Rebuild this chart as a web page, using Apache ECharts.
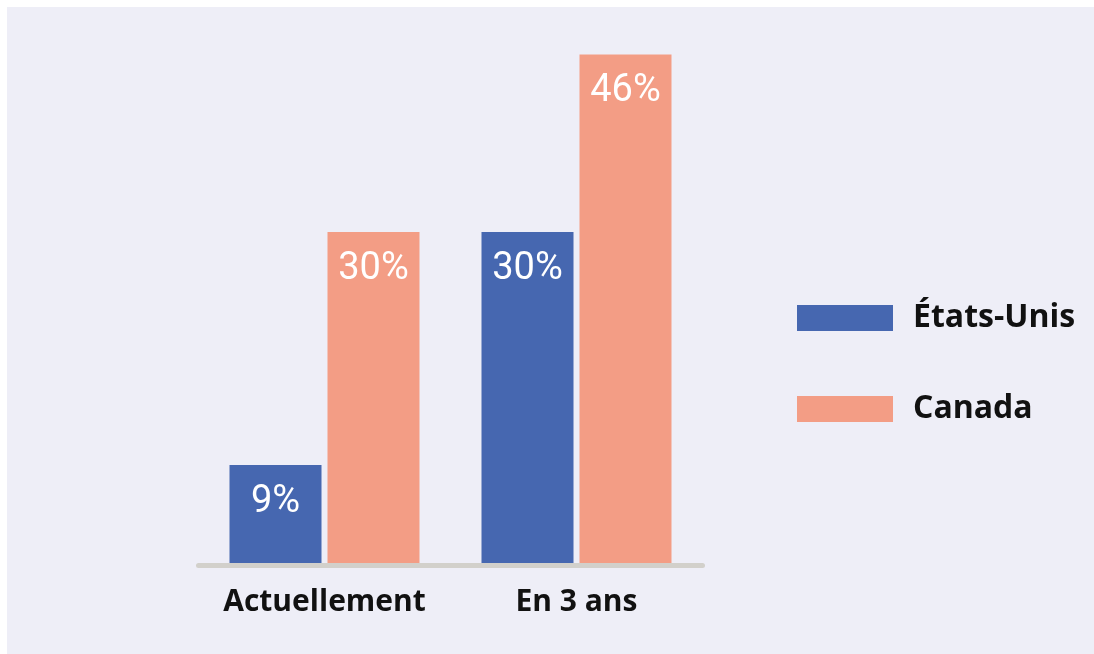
<!DOCTYPE html>
<html>
<head>
<meta charset="utf-8">
<script src="https://cdn.jsdelivr.net/npm/echarts@6/dist/echarts.min.js"></script>
<style>
  html, body { margin: 0; padding: 0; background: #ffffff; }
  #chart { position: absolute; left: 7px; top: 7px; width: 1087px; height: 647px; background: #EEEEF7; }
</style>
</head>
<body>
<div id="chart"></div>
<script>
const categories = ['Actuellement', 'En 3 ans'];
const seriesNames = ['États-Unis', 'Canada'];
const usValues = [9, 30];
const canadaValues = [30, 46];
const colors = ['#4667B0', '#F39D85'];

const chart = echarts.init(document.getElementById('chart'), null, { renderer: 'canvas' });

const labelStyle = {
  show: true,
  position: 'insideTop',
  distance: 18,
  color: '#ffffff',
  fontFamily: '"Roboto", sans-serif',
  fontSize: 38,
  fontWeight: 'normal',
  formatter: p => p.value + '%'
};

chart.setOption({
  backgroundColor: 'transparent',
  animation: false,
  grid: { left: 191.5, width: 504, top: 3, bottom: 89, containLabel: false },
  legend: {
    orient: 'vertical',
    left: 785,
    top: 290,
    itemWidth: 96,
    itemHeight: 26,
    itemGap: 59,
    icon: 'rect',
    data: seriesNames,
    textStyle: {
      color: '#111111',
      fontFamily: '"Open Sans", sans-serif',
      fontWeight: 'bold',
      fontSize: 32,
      padding: [0, 0, 0, 15]
    }
  },
  xAxis: {
    type: 'category',
    data: categories,
    z: 5,
    axisLine: { show: true, lineStyle: { color: '#D2D0CB', width: 5 } },
    axisTick: { show: false },
    axisLabel: {
      interval: 0,
      margin: 22,
      color: '#111111',
      fontFamily: '"Open Sans", sans-serif',
      fontWeight: 'bold',
      fontSize: 30
    }
  },
  yAxis: {
    type: 'value',
    min: 0,
    max: 50,
    show: false,
    splitLine: { show: false }
  },
  series: [
    {
      name: seriesNames[0],
      type: 'bar',
      data: usValues,
      itemStyle: { color: colors[0] },
      barGap: '6.5%',
      barCategoryGap: '24.6%',
      label: labelStyle
    },
    {
      name: seriesNames[1],
      type: 'bar',
      data: canadaValues,
      itemStyle: { color: colors[1] },
      barGap: '6.5%',
      barCategoryGap: '24.6%',
      label: labelStyle
    }
  ]
});
</script>
</body>
</html>
